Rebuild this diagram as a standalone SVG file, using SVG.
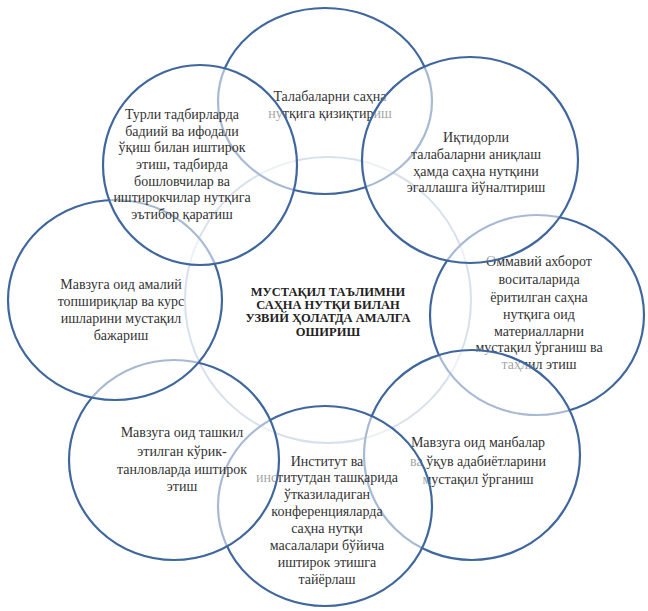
<svg xmlns="http://www.w3.org/2000/svg" width="648" height="611" viewBox="0 0 648 611">
<style>
.c{fill:#fff;fill-opacity:0.55;stroke:#3f679d;stroke-width:2.2}
.cc{fill:none;stroke:#a9bbd5;stroke-width:2}
text{font-family:"Liberation Serif","Times New Roman",serif;font-size:14px;fill:#333;text-anchor:middle}
.b{font-weight:bold;font-size:12.5px;fill:#222}
</style>
<rect width="648" height="611" fill="#fff"/>
<g id="center">
<ellipse class="cc" cx="328" cy="300" rx="143" ry="143"/>
<text class="b" x="328" y="296">МУСТАҚИЛ ТАЪЛИМНИ</text>
<text class="b" x="328" y="309">САҲНА НУТҚИ БИЛАН</text>
<text class="b" x="328" y="322">УЗВИЙ ҲОЛАТДА АМАЛГА</text>
<text class="b" x="328" y="336">ОШИРИШ</text>
</g>
<g id="n-top">
<ellipse class="c" cx="325" cy="101" rx="107" ry="93"/>
<text x="330" y="101">Талабаларни саҳна</text>
<text x="330" y="118">нутқига қизиқтириш</text>
</g>
<g id="n-right">
<ellipse class="c" cx="537" cy="315" rx="107" ry="100"/>
<text x="539" y="266">Оммавий ахборот</text>
<text x="539" y="284">воситаларида</text>
<text x="539" y="302">ёритилган саҳна</text>
<text x="539" y="319">нутқига оид</text>
<text x="539" y="336">материалларни</text>
<text x="539" y="352">мустақил ўрганиш ва</text>
<text x="539" y="369">таҳлил этиш</text>
</g>
<g id="n-bottom-right">
<ellipse class="c" cx="472" cy="455" rx="108" ry="105"/>
<text x="478" y="447">Мавзуга оид манбалар</text>
<text x="478" y="466">ва ўқув адабиётларини</text>
<text x="478" y="484">мустақил ўрганиш</text>
</g>
<g id="n-bottom">
<ellipse class="c" cx="325" cy="506" rx="107" ry="100"/>
<text x="327" y="466">Институт ва</text>
<text x="327" y="482">институтдан ташқарида</text>
<text x="327" y="499">ўтказиладиган</text>
<text x="327" y="516">конференцияларда</text>
<text x="327" y="533">саҳна нутқи</text>
<text x="327" y="550">масалалари бўйича</text>
<text x="327" y="567">иштирок этишга</text>
<text x="327" y="584">тайёрлаш</text>
</g>
<g id="n-bottom-left">
<ellipse class="c" cx="174" cy="460" rx="105" ry="100"/>
<text x="182" y="437">Мавзуга оид ташкил</text>
<text x="182" y="456">этилган кўрик-</text>
<text x="182" y="474">танловларда иштирок</text>
<text x="182" y="491">этиш</text>
</g>
<g id="n-left">
<ellipse class="c" cx="115" cy="300" rx="107" ry="100"/>
<text x="121" y="289">Мавзуга оид амалий</text>
<text x="121" y="306">топшириқлар ва курс</text>
<text x="121" y="323">ишларини мустақил</text>
<text x="121" y="340">бажариш</text>
</g>
<g id="n-top-left">
<ellipse class="c" cx="200" cy="165" rx="97" ry="100"/>
<text x="182" y="119">Турли тадбирларда</text>
<text x="182" y="136">бадиий ва ифодали</text>
<text x="182" y="152">ўқиш билан иштирок</text>
<text x="182" y="169">этиш, тадбирда</text>
<text x="182" y="186">бошловчилар ва</text>
<text x="182" y="202">иштирокчилар нутқига</text>
<text x="182" y="219">эътибор қаратиш</text>
</g>
<g id="n-top-right">
<ellipse class="c" cx="470" cy="160" rx="108" ry="103"/>
<text x="476" y="142">Иқтидорли</text>
<text x="476" y="159">талабаларни аниқлаш</text>
<text x="476" y="176">ҳамда саҳна нутқини</text>
<text x="476" y="192">эгаллашга йўналтириш</text>
</g>
<g id="connectors"></g>
</svg>
